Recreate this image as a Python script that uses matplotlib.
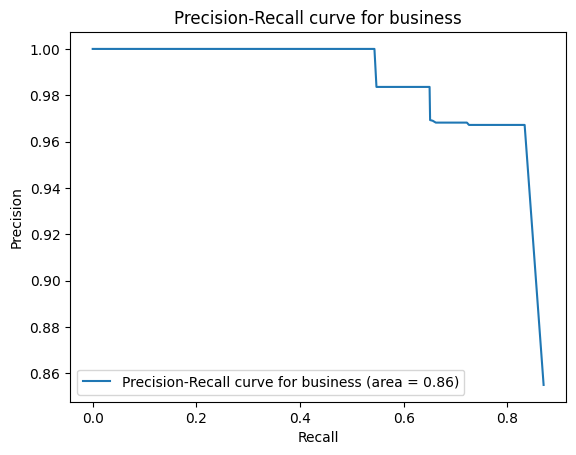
import matplotlib
matplotlib.use("Agg")
import matplotlib.pyplot as plt

recall = [0.0, 0.5436, 0.5475, 0.650, 0.651, 0.656, 0.662, 0.722, 0.726, 0.8334, 0.870]
precision = [1.0, 1.0, 0.9836, 0.9836, 0.9693, 0.9690, 0.9682, 0.9682, 0.9672, 0.9672, 0.855]
area = 0.86
label_name = "business"

fig, ax = plt.subplots(figsize=(6.4, 4.8), dpi=100)
ax.plot(recall, precision, label=f"Precision-Recall curve for {label_name} (area = {area:.2f})")
ax.set_xlabel("Recall")
ax.set_ylabel("Precision")
ax.set_title(f"Precision-Recall curve for {label_name}")
ax.legend(loc="lower left")
fig.savefig("out.png", dpi=100, bbox_inches="tight")
